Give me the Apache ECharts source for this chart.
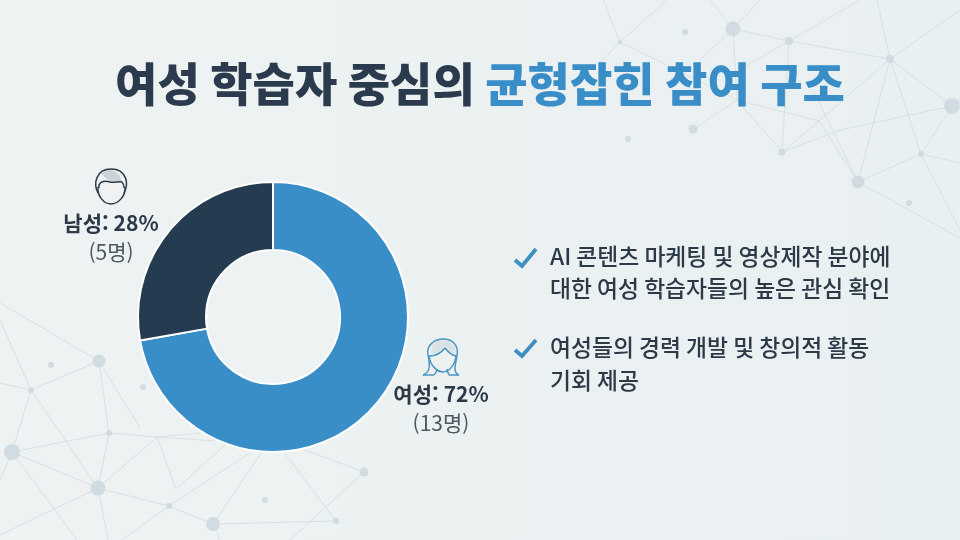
<!DOCTYPE html>
<html lang="ko">
<head>
<meta charset="utf-8">
<style>html,body{margin:0;padding:0;background:#ecf1f2}#c{width:960px;height:540px}</style>
<script src="https://cdn.jsdelivr.net/npm/echarts@6/dist/echarts.min.js"></script>
</head>
<body>
<div id="c"></div>
<script>
const categories = ['여성', '남성'];
const shares = [72, 28];
const counts = [13, 5];
const sliceColors = ['#3a8ec7', '#253b50'];
const titleDark = '여성 학습자 중심의';
const titleBlue = '균형잡힌 참여 구조';
const bullets = [
  ['AI 콘텐츠 마케팅 및 영상제작 분야에', '대한 여성 학습자들의 높은 관심 확인'],
  ['여성들의 경력 개발 및 창의적 활동', '기회 제공']
];

const FONT = '"Noto Sans CJK KR", "Noto Sans", sans-serif';
// decorative network backdrop
const nodes = [
  [733,29,7.5],[789,41,4],[890,59,4],[620,42,2.5],[685,32,3],[952,106,8],[693,129,4.5],[628,139,3],
  [782,152,3.5],[921,154,3],[858,182,6.5],[909,203,3],
  [99,361,6.5],[51,365,3],[31,390,3],[143,387,3],[109,433,3],[12,452,8],[98,488,7.5],[169,506,3],
  [213,524,7],[265,500,3],[336,521,3],[364,472,4.5]
];
const links = [
  [[733,29],[789,41],[890,59],[952,106]],[[890,59],[858,182]],[[890,59],[921,154],[960,230]],[[952,106],[921,154],[858,182]],
  [[921,154],[960,163]],[[858,182],[819,121],[737,100]],[[819,121],[890,59]],[[858,182],[960,238]],[[782,152],[840,130],[952,106]],
  [[782,152],[737,100],[733,29]],[[789,41],[782,152]],[[789,41],[860,0]],[[620,42],[667,0]],[[733,29],[710,0]],[[733,29],[760,0]],
  [[877,0],[890,59],[960,10]],[[603,0],[620,42],[600,63]],[[620,42],[737,100]],[[693,129],[737,100]],[[733,29],[700,60]],
  [[789,41],[747,65]],[[858,182],[813,90]],[[819,121],[785,150]],[[952,106],[960,100]],
  [[0,303],[99,361],[31,390],[0,383]],[[0,320],[31,390],[12,452],[0,480]],[[31,390],[98,488]],[[99,361],[109,433],[98,488]],
  [[99,361],[140,428]],[[109,433],[12,452],[98,488]],[[109,433],[157,437],[215,441]],[[12,452],[77,540]],[[98,488],[0,535]],
  [[98,488],[108,540]],[[98,488],[157,437],[200,433]],[[98,488],[169,506],[213,524],[336,521],[284,452]],[[169,506],[250,453]],
  [[176,489],[157,437]],[[176,489],[225,445]],[[213,524],[262,452]],[[213,524],[220,540]],[[169,506],[122,540]],
  [[364,472],[305,450]],[[364,472],[290,540]]
];

const graphics = [
  {type:'rect',silent:true,z:-10,shape:{x:0,y:0,width:960,height:540},
   style:{fill:{type:'linear',x:0,y:0,x2:1,y2:0,colorStops:[{offset:0,color:'#eef2f2'},{offset:1,color:'#e9f0f1'}]}}}
];
links.forEach(p => graphics.push({type:'polyline',silent:true,z:-9,shape:{points:p},style:{fill:'none',stroke:'#d8e0e4',lineWidth:1}}));
nodes.forEach(n => graphics.push({type:'circle',silent:true,z:-8,shape:{cx:n[0],cy:n[1],r:n[2]},style:{fill:'#d0dbe2'}}));

// title
graphics.push({type:'text',z:5,x:480,y:84,style:{
  text:'{d|'+titleDark+'} {b|'+titleBlue+'}',align:'center',verticalAlign:'middle',
  rich:{d:{font:'900 46px '+FONT,fill:'#2b3b4d'},b:{font:'900 46px '+FONT,fill:'#3a8ec7'}},
  font:'900 46px '+FONT}});

// bullet list
const lineY = [[256,288],[347,380]];
const checkY = [[260,266,249],[350,356,340]];
bullets.forEach((lines,i) => {
  graphics.push({type:'polyline',z:5,shape:{points:[[515,checkY[i][0]],[522,checkY[i][1]],[536,checkY[i][2]]]},
    style:{fill:'none',stroke:'#3f8fc2',lineWidth:3.8,lineCap:'butt',lineJoin:'miter'}});
  lines.forEach((t,j) => graphics.push({type:'text',z:5,x:550,y:lineY[i][j],style:{
    text:t,align:'left',verticalAlign:'middle',font:'500 22.8px '+FONT,fill:'#2c3a48'}}));
});

// icons: each stroke is a chain of cubic segments [x0,y0, c1x,c1y,c2x,c2y,x,y, ...]
function strokes(chains,color){
  chains.forEach(c=>{
    for(let i=0;i+7<c.length;i+=6){
      graphics.push({type:'bezierCurve',z:6,shape:{x1:c[i],y1:c[i+1],cpx1:c[i+2],cpy1:c[i+3],cpx2:c[i+4],cpy2:c[i+5],x2:c[i+6],y2:c[i+7]},
        style:{fill:'none',stroke:color,lineWidth:1.5}});
    }
  });
}
graphics.push({type:'polygon',z:5,shape:{points:[[106,170],[101,174],[110,181],[122,182],[120,176],[116,172],[111,170]]},style:{fill:'#ccd4da'}});
strokes([
  [98,193, 93,184,96,169,111,169, 127,169,129,184,124,193],
  [98,187, 97,196,104,204,111,204, 118,204,126,196,125,187],
  [99,188, 98,182,104,180,110,182, 114,183,120,181,122,182, 124,184,124,186,124,188]
],'#2c3a48');
graphics.push({type:'polygon',z:5,shape:{points:[[443,340],[436,341],[432,346],[431,353],[437,354],[442,352],[445,348],[448,351],[452,353],[456,354],[455,347],[450,342]]},style:{fill:'#dbe2e6'}});
strokes([
  [423,375, 431,372,430,364,428,355, 426,344,436,339,443,339, 452,339,459,345,457,355, 456,364,452,372,459,375],
  [423,375, 427,375,430,375,434,375, 436,373,437,371,437,369],
  [459,375, 456,375,452,375,449,375, 448,373,447,371,447,369],
  [429,356, 430,365,437,372,443,372, 449,372,455,365,456,356, 452,355,448,352,445,348, 442,352,437,356,429,356]
],'#4b94bf');

const labelAt = {'남성':[111,238],'여성':[441,409]};

const chart = echarts.init(document.getElementById('c'));
chart.setOption({
  animation:false,
  graphic:graphics,
  series:[{
    type:'pie',center:[273,317],radius:[67,135],startAngle:90,clockwise:true,silent:true,
    itemStyle:{borderColor:'#ffffff',borderWidth:2},
    labelLine:{show:false},
    label:{show:true,position:'outside',
      formatter:p => '{b|'+p.name+': '+shares[p.dataIndex]+'%}\n{n|('+p.value+'명)}',
      rich:{b:{fontFamily:FONT,fontWeight:700,fontSize:21,color:'#2c3a48',lineHeight:29,align:'center'},
            n:{fontFamily:FONT,fontWeight:400,fontSize:21,color:'#4d5863',lineHeight:29,align:'center'}}},
    labelLayout:p => {const a=labelAt[categories[p.dataIndex]];return {x:a[0],y:a[1],align:'center',verticalAlign:'middle'};},
    data:categories.map((c,i)=>({name:c,value:counts[i],itemStyle:{color:sliceColors[i]}}))
  }]
});
</script>
</body>
</html>
